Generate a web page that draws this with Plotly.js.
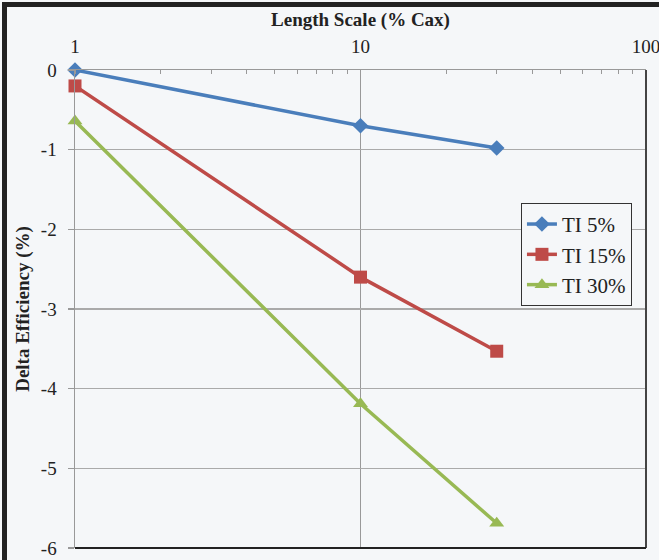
<!DOCTYPE html>
<html>
<head>
<meta charset="utf-8">
<script src="https://cdn.plot.ly/plotly-3.0.1.min.js"></script>
<style>
  html, body { margin: 0; padding: 0; background: #f5f7f9; }
  #wrap { position: relative; width: 659px; height: 560px; overflow: hidden; }
  #chart { position: absolute; left: 0; top: 0; width: 659px; height: 560px; }
  #frame { position: absolute; left: 2px; top: 2px; width: 700px; height: 600px;
           border-left: 5px solid #222; border-top: 5px solid #222; pointer-events: none; }
</style>
</head>
<body>
<div id="wrap">
  <div id="chart"></div>
  <div id="frame"></div>
</div>
<script>
// Data
const lengthScale = [1, 10, 30];
const ti5  = [0.0, -0.70, -0.98];
const ti15 = [-0.20, -2.60, -3.53];
const ti30 = [-0.64, -4.19, -5.69];
const seriesNames = ['TI 5%', 'TI 15%', 'TI 30%'];
const xTickVals = [1, 10, 100];
const xTickText = ['1', '10', '100'];
const yTickVals = [0, -1, -2, -3, -4, -5, -6];
const yTickText = ['0', '-1', '-2', '-3', '-4', '-5', '-6'];

const colors = ['#4a7ebb', '#be4b48', '#98b954'];
const symbols = ['diamond', 'square', 'triangle-up'];
const sizes = [12, 13, 13];
const ys = [ti5, ti15, ti30];

const traces = ys.map((y, i) => ({
  x: lengthScale, y: y, name: seriesNames[i], type: 'scatter', mode: 'lines+markers',
  cliponaxis: false,
  line: { color: colors[i], width: 3.5 },
  marker: { color: colors[i], symbol: symbols[i], size: sizes[i] }
}));

const serif = '"Liberation Serif", "Times New Roman", serif';
const layout = {
  width: 659, height: 560,
  margin: { l: 75, r: 13, t: 70, b: 12 },
  paper_bgcolor: '#f5f7f9', plot_bgcolor: '#f5f7f9',
  font: { family: serif, color: '#222', size: 18 },
  showlegend: true,
  legend: {
    x: 0.781, y: 0.722, xanchor: 'left', yanchor: 'top',
    traceorder: 'normal',
    bgcolor: '#f5f7f9', bordercolor: '#333', borderwidth: 1,
    font: { family: serif, size: 21, color: '#222' }
  },
  xaxis: {
    type: 'log', side: 'top', range: [0, 2],
    tickvals: xTickVals, ticktext: xTickText,
    ticks: '', showline: true, linecolor: '#999', linewidth: 1.5,
    showgrid: true, gridcolor: '#999', gridwidth: 1,
    zeroline: false, mirror: false, ticklabelstandoff: 8,
    ticklabeloverflow: 'allow',
    tickfont: { family: serif, size: 19, color: '#222' },
    minor: { dtick: 'D1', ticks: 'inside', ticklen: 4, tickcolor: '#999', tickwidth: 1, showgrid: false },
    title: { text: '<b>Length Scale (% Cax)</b>', font: { family: serif, size: 19, color: '#222' }, standoff: 4 }
  },
  yaxis: {
    range: [-6, 0], tickvals: yTickVals, ticktext: yTickText,
    ticks: 'outside', ticklen: 6, tickcolor: '#999', tickwidth: 1.5,
    showline: true, linecolor: '#999', linewidth: 1.5,
    showgrid: true, gridcolor: '#aaa', gridwidth: 1.2, zeroline: false,
    ticklabelstandoff: 7,
    tickfont: { family: serif, size: 19, color: '#222' },
    title: { text: '<b>Delta Efficiency (%)</b>', font: { family: serif, size: 19, color: '#222' }, standoff: 6 }
  },
  shapes: [
    { type: 'line', xref: 'paper', yref: 'paper', x0: 1, x1: 1, y0: 0, y1: 1, line: { color: '#444', width: 2 } },
    { type: 'line', xref: 'paper', yref: 'paper', x0: 0, x1: 1, y0: 0, y1: 0, line: { color: '#222', width: 2 } }
  ]
};

Plotly.newPlot('chart', traces, layout, { displayModeBar: false, staticPlot: true });
</script>
</body>
</html>
